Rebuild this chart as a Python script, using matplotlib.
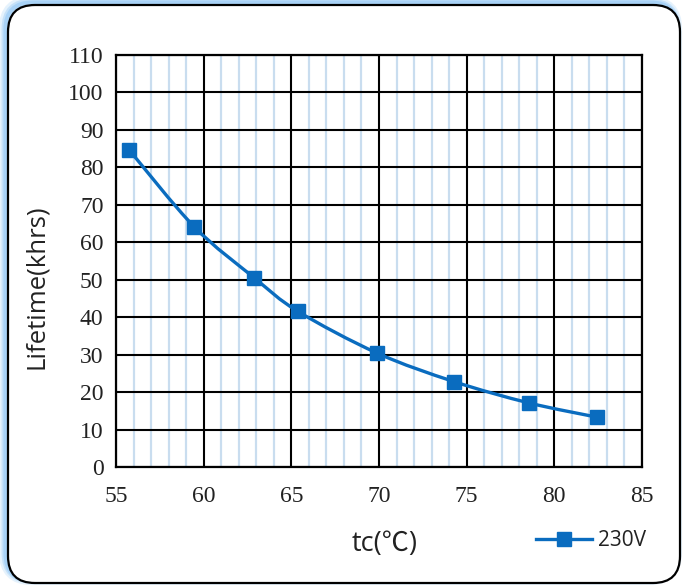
import matplotlib
matplotlib.use("Agg")
import matplotlib.pyplot as plt
from matplotlib.patches import FancyBboxPatch, PathPatch
from matplotlib.path import Path
from matplotlib.lines import Line2D
import numpy as np

# Data
temps = [55.76, 59.47, 62.89, 65.36, 69.9, 74.28, 78.56, 82.44]
lifetime = [84.6, 64.1, 50.5, 41.6, 30.4, 22.8, 17.1, 13.3]
series_label = "230V"
x_ticks = [55, 60, 65, 70, 75, 80, 85]
y_ticks = [0, 10, 20, 30, 40, 50, 60, 70, 80, 90, 100, 110]
x_label = "tc(℃)"
y_label = "Lifetime(khrs)"

blue = "#0a6cbf"
plt.rcParams['font.family'] = ['Liberation Serif', 'DejaVu Serif']

fig = plt.figure(figsize=(6.84, 5.85), dpi=100)
fig.patch.set_facecolor("white")

# Frame with glow (offset up-left)
for lw, a, off in [(8, 0.22, 0.035), (5, 0.35, 0.03), (3, 0.5, 0.025)]:
    glow = FancyBboxPatch((0.08 - off, 0.02 + off), 6.72, 5.78,
                          boxstyle="round,pad=0,rounding_size=0.27",
                          transform=fig.dpi_scale_trans, facecolor="none",
                          edgecolor="#8cc4f5", linewidth=lw, alpha=a, zorder=-3)
    fig.patches.append(glow)
frame = FancyBboxPatch((0.08, 0.02), 6.72, 5.78,
                       boxstyle="round,pad=0,rounding_size=0.27",
                       transform=fig.dpi_scale_trans, facecolor="white",
                       edgecolor="black", linewidth=1.6, zorder=-2)
fig.patches.append(frame)

ax = fig.add_axes([116/684, 1-467/585, (642-116)/684, (467-55)/585])
ax.set_zorder(2)
ax.set_facecolor("none")
ax.set_xlim(55, 85)
ax.set_ylim(0, 110)

# grid
for xv in np.arange(x_ticks[0], x_ticks[-1] + 1, 1):
    if (xv - x_ticks[0]) % 5 != 0:
        ax.axvline(xv, color="#c9ddef", lw=1.6, zorder=1)
for xv in x_ticks:
    ax.axvline(xv, color="black", lw=1.5, zorder=2)
for yv in y_ticks:
    ax.axhline(yv, color="black", lw=1.5, zorder=2)

for s in ax.spines.values():
    s.set_linewidth(1.6)
    s.set_color("black")
    s.set_zorder(3)

ax.set_xticks(x_ticks)
ax.set_yticks(y_ticks)
ax.set_xticklabels([str(v) for v in x_ticks], fontsize=17,
                   family="Liberation Serif", color="#222222")
ax.set_yticklabels([str(v) for v in y_ticks], fontsize=17,
                   family="Liberation Serif", color="#222222")
ax.tick_params(length=0)
ax.tick_params(axis="y", pad=9)
ax.tick_params(axis="x", pad=14)

# smooth curve (Catmull-Rom rendered as Bezier path)
P = np.column_stack([temps, lifetime])
n = len(P)
verts = [tuple(P[0])]
codes = [Path.MOVETO]
for i in range(n - 1):
    p0 = P[i - 1] if i > 0 else P[i]
    p1 = P[i]
    p2 = P[i + 1]
    p3 = P[i + 2] if i + 2 < n else P[i + 1]
    c1 = p1 + (p2 - p0) / 6.0
    c2 = p2 - (p3 - p1) / 6.0
    verts += [tuple(c1), tuple(c2), tuple(p2)]
    codes += [Path.CURVE4] * 3
curve = PathPatch(Path(verts, codes), facecolor="none", edgecolor=blue,
                  lw=2.4, transform=ax.transData, zorder=4)
ax.add_patch(curve)
ax.plot(temps, lifetime, linestyle="none", marker="s", ms=10.5,
        color=blue, zorder=5, clip_on=False)

fig.text(37/684, 1-287/585, y_label, rotation=90, ha="center", va="center",
         fontsize=18.5, family=["Open Sans", "DejaVu Sans"], color="#222222")
fig.text(385/684, 1-544/585, x_label, ha="center", va="center",
         fontsize=19.5, family=["Open Sans", "Noto Sans CJK SC", "DejaVu Sans"],
         color="#222222")

handle = Line2D([], [], color=blue, lw=2.4, marker="s", ms=10.5)
leg = fig.legend([handle], [series_label], loc="center left",
                 bbox_to_anchor=(517/684, 1-541/585), frameon=False,
                 handlelength=2.7, handletextpad=0.3,
                 prop={"family": "Open Sans", "size": 15})
for t in leg.get_texts():
    t.set_color("#222222")

fig.savefig("out.png", dpi=100, facecolor="white")
